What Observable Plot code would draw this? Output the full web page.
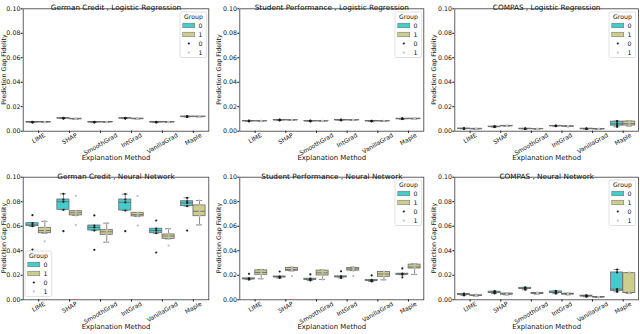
<!DOCTYPE html>
<html><head><meta charset="utf-8">
<script src="https://cdn.jsdelivr.net/npm/d3@7"></script>
<script src="https://cdn.jsdelivr.net/npm/@observablehq/plot@0.6"></script>
<style>
body{margin:0;background:#fff;}
#wrap{position:relative;width:640px;height:334px;overflow:hidden;font-family:"DejaVu Sans",sans-serif;background:#fff;}
</style></head><body><div id="wrap"></div>
<script>
const methods = ["LIME","SHAP","SmoothGrad","IntGrad","VanillaGrad","Maple"];
const groups = ["0","1"];
const datasets = ["German Credit","Student Performance","COMPAS"];
const models = ["Logistic Regression","Neural Network"];
const yTicks = [0,0.02,0.04,0.06,0.08,0.10];
const yLabel = "Prediction Gap Fidelity";
const xLabel = "Explanation Method";

// Per-run fidelity values (5 runs) for each method, group 0 and group 1
const germanLR_g0 = [[0.0072,0.0073,0.0074,0.0075,0.0077],[0.0103,0.0105,0.0106,0.0107,0.0109],[0.0072,0.0073,0.0074,0.0075,0.0077],[0.0103,0.0105,0.0106,0.0107,0.0109],[0.0072,0.0073,0.0074,0.0075,0.0076],[0.0116,0.0118,0.0119,0.0120,0.0123]];
const germanLR_g1 = [[0.0073,0.0074,0.0075,0.0075,0.0076],[0.0099,0.0100,0.0101,0.0102,0.0103],[0.0073,0.0074,0.0075,0.0075,0.0076],[0.0100,0.0101,0.0102,0.0103,0.0104],[0.0073,0.0074,0.0075,0.0075,0.0076],[0.0117,0.0118,0.0119,0.0120,0.0121]];
const studentLR_g0 = [[0.0081,0.0082,0.0083,0.0084,0.0086],[0.0089,0.0090,0.0091,0.0092,0.0094],[0.0081,0.0082,0.0083,0.0084,0.0086],[0.0089,0.0090,0.0091,0.0092,0.0094],[0.0081,0.0082,0.0083,0.0084,0.0085],[0.0099,0.0100,0.0101,0.0102,0.0104]];
const studentLR_g1 = [[0.0082,0.0083,0.0083,0.0084,0.0085],[0.0090,0.0091,0.0091,0.0092,0.0093],[0.0082,0.0083,0.0083,0.0084,0.0085],[0.0090,0.0091,0.0091,0.0092,0.0093],[0.0082,0.0083,0.0083,0.0084,0.0085],[0.0100,0.0101,0.0102,0.0103,0.0104]];
const compasLR_g0 = [[0.0019,0.0020,0.0021,0.0022,0.0023],[0.0034,0.0036,0.0037,0.0038,0.0040],[0.0018,0.0019,0.0020,0.0021,0.0022],[0.0041,0.0042,0.0043,0.0044,0.0046],[0.0018,0.0019,0.0020,0.0021,0.0022],[0.0036,0.0045,0.0060,0.0078,0.0083]];
const compasLR_g1 = [[0.0017,0.0018,0.0019,0.0020,0.0021],[0.0041,0.0042,0.0043,0.0044,0.0045],[0.0017,0.0018,0.0019,0.0019,0.0020],[0.0038,0.0039,0.0040,0.0041,0.0042],[0.0016,0.0017,0.0018,0.0019,0.0020],[0.0042,0.0046,0.0062,0.0079,0.0083]];
const germanNN_g0 = [[0.0410,0.0600,0.0610,0.0625,0.0690],[0.0560,0.0734,0.0800,0.0818,0.0864],[0.0408,0.0565,0.0590,0.0606,0.0688],[0.0560,0.0728,0.0795,0.0818,0.0862],[0.0386,0.0543,0.0565,0.0580,0.0647],[0.0565,0.0764,0.0790,0.0804,0.0832]];
const germanNN_g1 = [[0.0476,0.0543,0.0565,0.0587,0.0640],[0.0610,0.0688,0.0710,0.0723,0.0848],[0.0470,0.0530,0.0555,0.0570,0.0625],[0.0606,0.0680,0.0695,0.0710,0.0848],[0.0443,0.0497,0.0520,0.0533,0.0580],[0.0611,0.0682,0.0722,0.0770,0.0810]];
const studentNN_g0 = [[0.0165,0.0168,0.0170,0.0175,0.0212],[0.0178,0.0183,0.0187,0.0190,0.0231],[0.0158,0.0163,0.0167,0.0172,0.0207],[0.0178,0.0184,0.0188,0.0191,0.0233],[0.0150,0.0154,0.0158,0.0162,0.0199],[0.0183,0.0205,0.0210,0.0213,0.0256]];
const studentNN_g1 = [[0.0171,0.0204,0.0223,0.0240,0.0247],[0.0193,0.0236,0.0248,0.0260,0.0266],[0.0166,0.0198,0.0220,0.0238,0.0242],[0.0195,0.0238,0.0252,0.0260,0.0266],[0.0163,0.0187,0.0210,0.0226,0.0231],[0.0207,0.0255,0.0268,0.0287,0.0293]];
const compasNN_g0 = [[0.0036,0.0039,0.0044,0.0048,0.0050],[0.0052,0.0057,0.0060,0.0066,0.0070],[0.0082,0.0088,0.0093,0.0098,0.0101],[0.0051,0.0055,0.0060,0.0068,0.0072],[0.0025,0.0028,0.0031,0.0034,0.0036],[0.0065,0.0073,0.0087,0.0223,0.0247]];
const compasNN_g1 = [[0.0030,0.0033,0.0035,0.0037,0.0045],[0.0040,0.0043,0.0047,0.0051,0.0053],[0.0046,0.0049,0.0052,0.0056,0.0058],[0.0041,0.0044,0.0047,0.0050,0.0053],[0.0019,0.0020,0.0022,0.0023,0.0024],[0.0052,0.0055,0.0060,0.0217,0.0222]];

const panelData = [
  [germanLR_g0, germanLR_g1], [studentLR_g0, studentLR_g1], [compasLR_g0, compasLR_g1],
  [germanNN_g0, germanNN_g1], [studentNN_g0, studentNN_g1], [compasNN_g0, compasNN_g1]
];
const legendPlace = ["tr","tr","tr","bl","tr","tr"];

const BOX = {"0":"#44cccc","1":"#cdcd8e"};
const PT = {"0":"#1e1e1e","1":"#bdbdbd"};
const EDGE = "#6b6b6b";

// layout
const svgLeft = [0,213,426], svgW = [213,213,214];
const plotL = [22.7,239.3,454.3], plotR = [208.3,423.3,638];
const svgTop = [0,167], svgH = 167;
const plotT = [8.3,176.7], plotB = [130.7,299.3];

const ctx = document.createElement("canvas").getContext("2d");
const tickFS = 6;
ctx.font = tickFS + "px 'DejaVu Sans'";

function boxStats(vals){
  const s = vals.slice().sort(d3.ascending);
  const q1 = d3.quantile(s,0.25), med = d3.quantile(s,0.5), q3 = d3.quantile(s,0.75);
  const iqr = q3 - q1;
  const lo = d3.min(s.filter(v => v >= q1 - 1.5*iqr));
  const hi = d3.max(s.filter(v => v <= q3 + 1.5*iqr));
  return {q1, med, q3, lo, hi};
}

const wrap = document.getElementById("wrap");

function legend(x, y){
  const svg = d3.create("svg").attr("width",28).attr("height",47)
    .style("position","absolute").style("left",x+"px").style("top",y+"px").style("overflow","visible")
    .style("font-family","'DejaVu Sans', sans-serif");
  svg.append("rect").attr("x",0).attr("y",0).attr("width",26.7).attr("height",45.5).attr("rx",1.5)
    .attr("fill","white").attr("fill-opacity",0.8).attr("stroke","#cccccc").attr("stroke-width",0.6);
  svg.append("text").attr("x",13.4).attr("y",4.6).attr("text-anchor","middle").attr("dominant-baseline","central")
    .attr("font-size",6.2).attr("fill","#111").text("Group");
  groups.forEach((g,i) => {
    const yy = 13.5 + 9*i;
    svg.append("rect").attr("x",2.8).attr("y",yy-2.3).attr("width",12).attr("height",4.6)
      .attr("fill",BOX[g]).attr("stroke",EDGE).attr("stroke-width",0.5);
    svg.append("text").attr("x",18.5).attr("y",yy).attr("dominant-baseline","central")
      .attr("font-size",6.2).attr("fill","#111").text(g);
    const yd = 31.5 + 9*i;
    svg.append("circle").attr("cx",8.8).attr("cy",yd).attr("r",1.1).attr("fill",PT[g]);
    svg.append("text").attr("x",18.5).attr("y",yd).attr("dominant-baseline","central")
      .attr("font-size",6.2).attr("fill","#111").text(g);
  });
  return svg.node();
}

panelData.forEach((pd, k) => {
  const col = k % 3, row = Math.floor(k / 3);
  const boxes = [], pts = [];
  methods.forEach((m, i) => {
    pd.forEach((arr, g) => {
      const vals = arr[i];
      const c = i + (g === 0 ? -0.2 : 0.2);
      const s = boxStats(vals);
      boxes.push({...s, c, g: groups[g], x1: c - 0.196, x2: c + 0.196, cx1: c - 0.098, cx2: c + 0.098});
      vals.forEach(v => pts.push({c, g: groups[g], v}));
    });
  });
  const title = datasets[col] + " , " + models[row];
  const labelMarks = methods.map((m, i) => {
    const w = ctx.measureText(m).width;
    const D = 3.6 + w * 0.25;
    return Plot.text([m], {x: () => i, frameAnchor: "bottom", dx: 0, dy: D, rotate: -30,
      textAnchor: "middle", lineAnchor: "middle", fontSize: tickFS, fill: "#111"});
  });
  const mL = plotL[col] - svgLeft[col];
  const mT = plotT[row] - svgTop[row];
  const mB = svgTop[row] + svgH - plotB[row];
  const chart = Plot.plot({
    width: svgW[col], height: svgH,
    marginLeft: mL,
    marginRight: svgLeft[col] + svgW[col] - plotR[col],
    marginTop: mT,
    marginBottom: mB,
    style: {fontFamily: "'DejaVu Sans', sans-serif", fontSize: "6.3px", background: "transparent", overflow: "visible", color: "#111"},
    x: {domain: [-0.5, 5.5], ticks: [0,1,2,3,4,5], tickFormat: () => "", tickSize: 2.2, label: null},
    y: {domain: [0, 0.1], ticks: yTicks, tickFormat: d3.format(".2f"), tickSize: 2, tickPadding: 0.8, label: null},
    color: {type: "identity"},
    marks: [
      Plot.ruleX(boxes, {x: "c", y1: "lo", y2: "q1", stroke: EDGE, strokeWidth: 0.8}),
      Plot.ruleX(boxes, {x: "c", y1: "q3", y2: "hi", stroke: EDGE, strokeWidth: 0.8}),
      Plot.ruleY(boxes, {y: "lo", x1: "cx1", x2: "cx2", stroke: EDGE, strokeWidth: 0.8}),
      Plot.ruleY(boxes, {y: "hi", x1: "cx1", x2: "cx2", stroke: EDGE, strokeWidth: 0.8}),
      Plot.rectY(boxes, {x1: "x1", x2: "x2", y1: "q1", y2: "q3", fill: d => BOX[d.g], stroke: EDGE, strokeWidth: 0.8}),
      Plot.ruleY(boxes, {y: "med", x1: "x1", x2: "x2", stroke: EDGE, strokeWidth: 0.9}),
      Plot.dot(pts, {x: "c", y: "v", r: 1.1, fill: d => PT[d.g], stroke: null}),
      Plot.frame({stroke: "#3a3a3a", strokeWidth: 0.8}),
      Plot.text([title], {frameAnchor: "top", dy: row === 0 ? -4.3 : -3.6, fontSize: 7.3, fill: "#111"}),
      Plot.text([xLabel], {frameAnchor: "bottom", dy: 29.2, fontSize: 6.9, fill: "#111"}),
      ...labelMarks
    ]
  });
  // y-axis title, placed left of the tick labels
  const yShift = col === 0 ? 19.4 : 20.8;
  const cy = mT + (svgH - mT - mB) / 2;
  d3.select(chart).append("text")
    .attr("transform", `translate(${mL - yShift},${cy}) rotate(-90)`)
    .attr("text-anchor", "middle").attr("dominant-baseline", "central")
    .attr("font-size", 6.3).attr("fill", "#111").attr("font-family", "'DejaVu Sans', sans-serif")
    .text(yLabel);
  chart.style.position = "absolute";
  chart.style.left = svgLeft[col] + "px";
  chart.style.top = svgTop[row] + "px";
  wrap.appendChild(chart);
  if (legendPlace[k] === "tr") {
    wrap.appendChild(legend(plotR[col] - 28.8, plotT[row] + 3.2));
  } else {
    wrap.appendChild(legend(plotL[col] + 2.3, plotB[row] - 48.6));
  }
});
</script></body></html>
